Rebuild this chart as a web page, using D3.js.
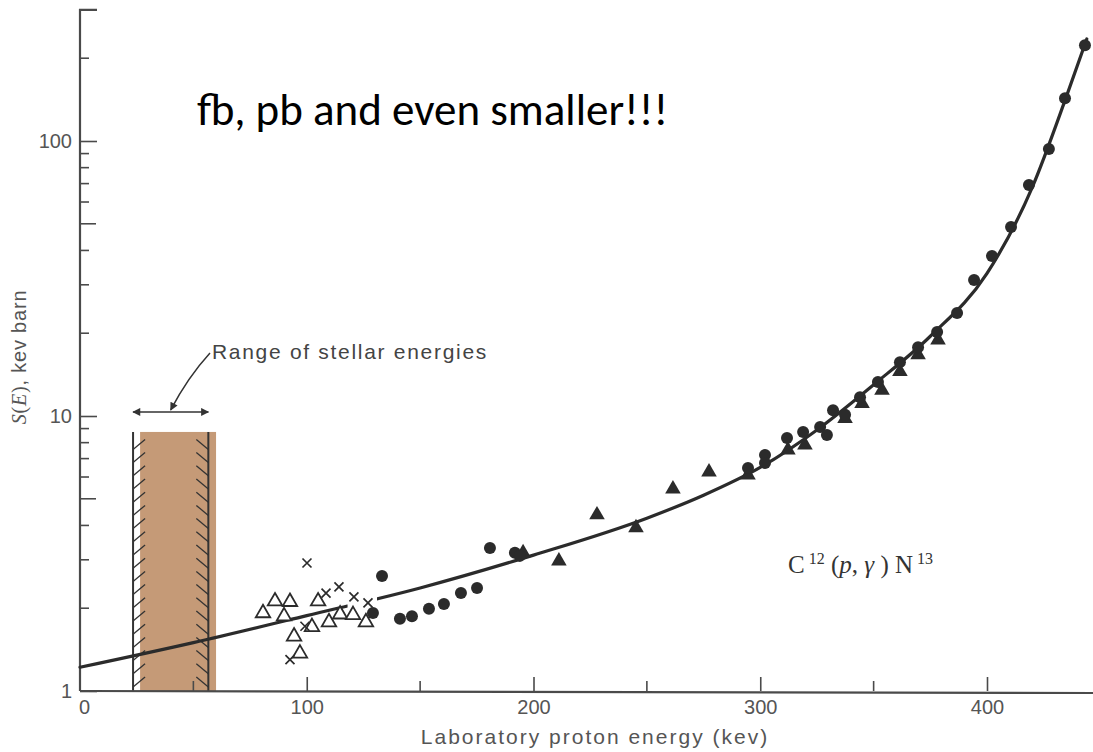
<!DOCTYPE html>
<html>
<head>
<meta charset="utf-8">
<script src="https://cdn.jsdelivr.net/npm/d3@7"></script>
<style>
  body { margin: 0; background: #fff; }
  svg { display: block; }
</style>
</head>
<body>
<svg id="chart" width="1093" height="752"></svg>
<script>
// Axis ticks
const xMajorTicks = [0, 100, 200, 300, 400];
const xMinorTicks = [50, 150, 250, 350];
const yMajorTicks = [1, 10, 100];
const yMinorTicks = [2, 3, 4, 6, 7, 8, 9, 20, 30, 40, 60, 70, 80, 90, 200];
const yMidTicks = [5, 50];

// Fitted S-factor curve: [E (keV), S (keV barn)]
const fitCurve = [
  [0, 1.22], [50, 1.50], [100, 1.88], [150, 2.37], [200, 3.12], [250, 4.25],
  [275, 5.15], [300, 6.5], [325, 8.9], [350, 13.0], [375, 19.5], [400, 33],
  [420, 68], [435, 145], [444, 235]
];
// Break in the drawn curve (keV)
const curveBreak = [118, 131];

// Measurements by data set: [E (keV), S (keV barn)]
const openTriangles = [
  [80.7, 1.92], [86, 2.12], [90, 1.87], [92.6, 2.11], [94.4, 1.58], [97, 1.37],
  [102.3, 1.71], [105, 2.12], [109.8, 1.78], [114.7, 1.90], [120.4, 1.89], [126.1, 1.78]
];
const crosses = [
  [92.6, 1.30], [99.2, 1.72], [100.1, 2.92], [108.5, 2.27], [114.2, 2.39],
  [120.8, 2.2], [127, 2.09]
];
const filledCircles = [
  [129.2, 1.92], [133.2, 2.62], [141.1, 1.83], [146.4, 1.87], [153.9, 1.99],
  [160.5, 2.07], [168, 2.27], [175.1, 2.37], [180.8, 3.31], [191.8, 3.18], [194, 3.1],
  [294.6, 6.47], [302.1, 7.21], [302.1, 6.75], [311.8, 8.32], [318.9, 8.75],
  [326.4, 9.12], [329.4, 8.53], [332.1, 10.5], [337.4, 10.1], [344, 11.7],
  [351.9, 13.3], [361.6, 15.7], [369.6, 17.8], [378, 20.2], [386.8, 23.7],
  [394.3, 31.2], [402.2, 38.2], [410.6, 48.7], [418.5, 69.2], [427.3, 93.5],
  [434.4, 143], [443.2, 223]
];
const filledTriangles = [
  [195.4, 3.18], [211.2, 2.97], [228, 4.37], [245.2, 3.92], [261.5, 5.43],
  [277.4, 6.26], [294.6, 6.1], [312.2, 7.52], [319.7, 7.85], [337.4, 9.8],
  [344.9, 11.1], [353.7, 12.4], [361.6, 14.5], [369.6, 16.7], [378.4, 18.9]
];

// Range of stellar energies (keV) and band height (keV barn)
const stellarBand = [26.5, 60];
const stellarLimits = [23.4, 56.6];
const bandTop = 8.75;

const W = 1093, H = 752;
const svg = d3.select("#chart");

const x = d3.scaleLinear().domain([0, 400]).range([80, 987]);
const y = d3.scaleLog().domain([1, 100]).range([691, 141]);
const yTop = 300;

const ink = "#2b2b2b";
const axisInk = "#4a4a4a";
const labelInk = "#555";
const sans = "'Liberation Sans', Arial, sans-serif";
const serif = "'Liberation Serif', 'DejaVu Serif', serif";

// Stellar energy band
svg.append("rect")
  .attr("x", x(stellarBand[0]))
  .attr("y", y(bandTop))
  .attr("width", x(stellarBand[1]) - x(stellarBand[0]))
  .attr("height", y(1) - y(bandTop) + 1)
  .attr("fill", "#c59a77");

// Hatched boundaries of the band
const hatch = svg.append("g").attr("stroke", "#333").attr("fill", "none");
stellarLimits.forEach((e, i) => {
  const px = x(e);
  hatch.append("line")
    .attr("x1", px).attr("x2", px)
    .attr("y1", y(bandTop)).attr("y2", y(1))
    .attr("stroke-width", 2);
  const dir = i === 0 ? 1 : -1;
  const step = 13.2;
  d3.range(y(1) - 4, y(bandTop) + 8, -step).forEach(py => {
    hatch.append("line")
      .attr("x1", px).attr("y1", py)
      .attr("x2", px + dir * 12).attr("y2", py - 10)
      .attr("stroke-width", 1.3);
  });
});

// Axes
const xAxis = d3.axisBottom(x).tickValues(xMajorTicks).tickSize(-14).tickPadding(9)
  .tickFormat(d3.format("d"));
const gx = svg.append("g").attr("transform", `translate(0,${y(1)})`).call(xAxis);
gx.select(".domain").remove();
gx.selectAll(".tick line").attr("stroke", axisInk).attr("stroke-width", 1.6);
gx.selectAll(".tick").filter(d => d === 0).select("line").remove();
gx.selectAll("text").attr("fill", labelInk).attr("font-family", sans).attr("font-size", 20)
  .attr("dx", d => d === 0 ? 4 : 0);
svg.append("g").selectAll("line").data(xMinorTicks).join("line")
  .attr("x1", d => x(d)).attr("x2", d => x(d))
  .attr("y1", y(1)).attr("y2", y(1) - 10)
  .attr("stroke", axisInk).attr("stroke-width", 1.6);
svg.append("line")
  .attr("x1", x(0)).attr("x2", W).attr("y1", y(1)).attr("y2", y(1) + 2)
  .attr("stroke", axisInk).attr("stroke-width", 2.2);

const yAxis = d3.axisLeft(y).tickValues(yMajorTicks).tickSize(-17).tickPadding(8)
  .tickFormat(d3.format("d"));
const gy = svg.append("g").attr("transform", `translate(${x(0)},0)`).call(yAxis);
gy.select(".domain").remove();
gy.selectAll(".tick line").attr("stroke", axisInk).attr("stroke-width", 1.6);
gy.selectAll("text").attr("fill", labelInk).attr("font-family", sans).attr("font-size", 20);
svg.append("g").selectAll("line").data(yMinorTicks.concat(yMidTicks)).join("line")
  .attr("x1", x(0)).attr("x2", d => x(0) + (yMidTicks.includes(d) ? 16 : 9))
  .attr("y1", d => y(d)).attr("y2", d => y(d))
  .attr("stroke", axisInk).attr("stroke-width", 1.6);
svg.append("path")
  .attr("d", `M${x(0) + 17},${y(yTop)}H${x(0)}V${y(1)}`)
  .attr("fill", "none").attr("stroke", axisInk).attr("stroke-width", 2.2);

// Axis titles
svg.append("text")
  .attr("x", 595).attr("y", 744)
  .attr("text-anchor", "middle")
  .attr("font-family", sans).attr("font-size", 21).attr("letter-spacing", 2)
  .attr("fill", labelInk)
  .text("Laboratory proton energy (kev)");

const yt = svg.append("text")
  .attr("transform", "translate(26,357) rotate(-90)")
  .attr("text-anchor", "middle")
  .attr("font-family", sans).attr("font-size", 20).attr("letter-spacing", 0.8)
  .attr("fill", labelInk);
yt.append("tspan").attr("font-family", serif).attr("font-style", "italic").text("S");
yt.append("tspan").attr("font-family", serif).text("(");
yt.append("tspan").attr("font-family", serif).attr("font-style", "italic").text("E");
yt.append("tspan").attr("font-family", serif).text(")");
yt.append("tspan").text(", kev barn");

// Fitted curve, drawn in two pieces around the break
const line = d3.line().x(d => x(d[0])).y(d => y(d[1])).curve(d3.curveMonotoneX);
const defs = svg.append("defs");
defs.append("clipPath").attr("id", "lowE").append("rect")
  .attr("x", 0).attr("y", 0).attr("width", x(curveBreak[0])).attr("height", H);
defs.append("clipPath").attr("id", "highE").append("rect")
  .attr("x", x(curveBreak[1])).attr("y", 0).attr("width", W).attr("height", H);
["lowE", "highE"].forEach(id => {
  svg.append("path").datum(fitCurve)
    .attr("clip-path", `url(#${id})`)
    .attr("d", line)
    .attr("fill", "none").attr("stroke", ink).attr("stroke-width", 3.2)
    .attr("stroke-linecap", "round");
});

// Markers
const marks = svg.append("g");
const triUp = d3.symbol().type(d3.symbolTriangle);
marks.selectAll(".otri").data(openTriangles).join("path")
  .attr("transform", d => `translate(${x(d[0])},${y(d[1])})`)
  .attr("d", triUp.size(90))
  .attr("fill", "#fff").attr("stroke", ink).attr("stroke-width", 1.8);
marks.selectAll(".cross").data(crosses).join("path")
  .attr("transform", d => `translate(${x(d[0])},${y(d[1])})`)
  .attr("d", "M-4.5,-4.5L4.5,4.5M-4.5,4.5L4.5,-4.5")
  .attr("fill", "none").attr("stroke", ink).attr("stroke-width", 1.7);
marks.selectAll(".ftri").data(filledTriangles).join("path")
  .attr("transform", d => `translate(${x(d[0])},${y(d[1])})`)
  .attr("d", triUp.size(105))
  .attr("fill", ink);
marks.selectAll(".circ").data(filledCircles).join("circle")
  .attr("cx", d => x(d[0])).attr("cy", d => y(d[1])).attr("r", 6)
  .attr("fill", ink);

// Stellar range annotation: double arrow, leader, label
const arrowY = y(bandTop) - 20;
defs.append("marker").attr("id", "head").attr("viewBox", "0 0 10 10")
  .attr("refX", 9).attr("refY", 5).attr("markerWidth", 16).attr("markerHeight", 8)
  .attr("markerUnits", "userSpaceOnUse").attr("orient", "auto-start-reverse")
  .append("path").attr("d", "M0,0L10,5L0,10Z").attr("fill", "#333");
svg.append("line")
  .attr("x1", x(stellarLimits[0])).attr("x2", x(stellarLimits[1]))
  .attr("y1", arrowY).attr("y2", arrowY)
  .attr("stroke", "#333").attr("stroke-width", 1.6)
  .attr("marker-start", "url(#head)").attr("marker-end", "url(#head)");
const labelX = 212, labelY = 359;
svg.append("path")
  .attr("d", `M${labelX - 2},${labelY - 6}Q${labelX - 24},${labelY + 18} ${x((stellarLimits[0] + stellarLimits[1]) / 2)},${arrowY - 2}`)
  .attr("fill", "none").attr("stroke", "#333").attr("stroke-width", 1.5)
  .attr("marker-end", "url(#head)");
svg.append("text")
  .attr("x", labelX).attr("y", labelY)
  .attr("font-family", sans).attr("font-size", 21).attr("letter-spacing", 1.7)
  .attr("fill", "#444")
  .text("Range of stellar energies");

// Reaction label
const rx = svg.append("text").attr("x", 788).attr("y", 573)
  .attr("font-family", serif).attr("font-size", 25).attr("fill", "#333");
rx.append("tspan").text("C");
rx.append("tspan").attr("dy", -9).attr("font-size", 16).text(" 12");
rx.append("tspan").attr("dy", 9).text(" (");
rx.append("tspan").attr("font-style", "italic").text("p");
rx.append("tspan").text(", ");
rx.append("tspan").attr("font-style", "italic").text("γ");
rx.append("tspan").text(" ) N");
rx.append("tspan").attr("dy", -9).attr("font-size", 16).text(" 13");

// Headline
svg.append("text")
  .attr("x", 197).attr("y", 125)
  .attr("font-family", "Carlito, Calibri, Lato, 'Open Sans', sans-serif")
  .attr("font-size", 45).attr("fill", "#000")
  .text("fb, pb and even smaller!!!");
</script>
</body>
</html>
